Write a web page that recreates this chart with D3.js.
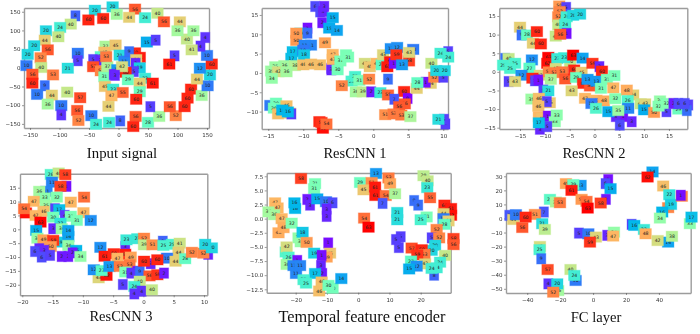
<!DOCTYPE html>
<html>
<head>
<meta charset="utf-8">
<script src="https://cdn.jsdelivr.net/npm/d3@7/dist/d3.min.js"></script>
<style>
  html, body { margin: 0; padding: 0; background: #fff; }
  svg { display: block; filter: blur(0.4px); }
  .domain { stroke: #9c9c9c; stroke-width: 1.4px; }
  .tick line { stroke: #555; stroke-width: 0.6px; }
  .tick text { font-family: "DejaVu Sans", sans-serif; font-size: 5.5px; fill: #333; }
  .title { font-family: "Liberation Serif", serif; fill: #111; text-anchor: middle; }
  .lab { font-family: "DejaVu Sans", sans-serif; font-size: 4.6px; fill: #222; text-anchor: middle; dominant-baseline: central; }
</style>
</head>
<body>
<svg id="chart" width="700" height="334"></svg>
<script>
// every point is [x, y, class label]
const inputSignal = [
  [-10,163,20],[-40,154,20],[28,157,56],[-3,143,36],[18,135,44],[-26,132,60],[-51,128,60],[-73,139,8],[45,134,24],[66,146,40],
  [77,123,56],[104,123,44],[-81,117,40],[-99,108,24],[-123,99,20],[-102,83,40],[-125,74,44],[-120,48,56],[-143,59,20],[-154,36,20],
  [-132,27,52],[-156,6,10],[-131,1,40],[-146,-17,56],[-146,-41,60],[-111,-19,53],[-125,-48,9],[-138,-71,10],[-113,-73,44],[-120,-97,36],
  [-97,-101,10],[-97,-126,4],[-87,-65,40],[-65,-80,57],[-70,-114,56],[-68,-141,52],[-46,-128,10],[-38,-151,24],[-16,-146,24],[3,-142,8],
  [29,-130,56],[25,-157,60],[50,-146,28],[69,-130,36],[97,-128,52],[87,-104,56],[112,-104,60],[117,-81,60],[123,-57,60],[141,-74,36],
  [151,-48,10],[155,-19,20],[133,-30,44],[138,-1,12],[158,10,60],[150,33,10],[147,81,4],[139,58,4],[124,48,41],[116,77,40],
  [100,99,36],[127,99,36],[95,32,5],[86,10,61],[48,69,15],[63,74,5],[-69,39,10],[-69,19,5],[-86,-1,21],
  [-22,58,37],[-5,61,45],[-24,42,46],[-30,30,27],[28,40,60],[36,28,61],[-43,22,5],[-31,20,3],
  [-43,3,57],[-30,-8,52],[-24,-24,31],[-19,3,37],[2,34,21],[-21,30,53],[-2,-5,13],[10,18,11],[18,43,9],[30,22,44],
  [29,12,3],[36,0,19],[-8,-18,2],[26,-10,5],[12,-12,60],[6,3,42],[-6,-20,3],[16,-32,29],[45,-28,23],[58,-41,61],
  [36,-41,44],[36,-64,29],[-23,-50,45],[-9,-57,23],[7,-66,55],[-12,-75,47],[30,-84,60],[54,-104,5],[-17,-103,44]
];

const resCnn1 = [
  [-8.3,17.2,6],[-7.6,15.8,6],[-7.2,15.9,3],[-7,17.2,3],[-7.3,13,2],[-5.8,14.3,15],[-6.3,11.6,15],[-5.2,11,14],[-9.4,11.6,1],[-10.4,10.3,19],
  [-9.4,10.3,9],[-11,8.4,50],[-11,10.3,50],[-8.9,7.2,11],[-9.8,7.2,11],[-6.9,7.8,49],[-11.5,5.5,17],[-11.7,3.8,17],[-10,5.9,10],[-9.9,4.7,18],
  [-12.7,1.9,36],[-11.2,1.9,38],[-10,2.1,46],[-8.9,2.3,46],[-7.6,2.1,46],[-14,1.6,35],[-14.6,0.5,35],[-13.6,0.3,42],[-14.5,-1.4,34],[-12.4,0.3,36],
  [-6,1.2,3],[-6,0.8,3],[-5.1,0.8,30],[-5.8,4.8,47],[-5.8,3.5,47],[-4.7,3.1,31],[-3.9,4.7,31],[-3.6,4.1,31],[-3.1,-2.1,25],[-2.6,-0.9,25],
  [-2,-1.9,31],[-0.6,-1.6,52],[-4.5,-3.3,52],[-2.5,-4.9,36],[-1.5,-4.9,39],[-0.3,-4.9,2],[1,-5.1,23],[2.1,-1.6,9],[-1.2,2.5,42],[-0.5,1.6,45],
  [0.5,2.5,47],[1.2,2.1,27],[1.4,4.7,43],[2.4,2.9,61],[2,1.6,61],[2.9,2.5,1],[2.5,6.3,12],[3.4,6.6,12],[3.3,4.7,59],[5.1,3.1,58],
  [4.1,2.1,13],[5.7,6.1,10],[5.1,5.3,43],[2.1,-5.7,55],[4.4,-4.8,60],[4.9,-6.6,0],[3,-6.8,7],[4.5,-8,56],[3.7,-8.7,56],[1.7,-10.8,51],
  [2.9,-10.6,53],[4,-10.9,53],[5.3,-11.3,37],[6.2,-4,44],[8.2,-2.7,44],[7.5,-2.4,1],[6.3,-2.5,28],[8.7,-1.1,52],[10,-1.1,5],[8.3,2.5,40],
  [9,0.6,20],[10.2,0.6,20],[10.7,5.5,5],[9.6,5.1,24],[10.7,4.1,24],[10.3,-13.2,5],[10.1,-12,5],[9.3,-12,21],[-14.7,-8.4,10],[-13.9,-7.8,30],
  [-14.2,-9.1,30],[-13.6,-10.6,46],[-12.4,-8.5,46],[-11.9,-10.4,46],[-11.7,-10.6,5],[-13,-9.6,16],[-12.2,-10.1,16],[-7.2,-14.3,62],[-7.7,-12.6,60],[-7.4,-12.8,59],
  [-6.7,-13.2,54]
];

const resCnn2 = [
  [-7.1,17.7,50],[-5.7,17.3,5],[-7,16.2,52],[-7.3,14.8,52],[-5.6,14.8,24],[-4.3,15.2,20],[-2.9,15.5,20],[-7.3,12.6,40],[-5.9,12.8,24],[-15,12,44],
  [-14.7,9.9,9],[-13.6,9.9,28],[-11.6,10.8,60],[-12.4,7.7,44],[-10.8,7.5,60],[-7.8,9.6,40],[-5.6,10.3,1],[-6.9,10.1,56],[-18,3.6,9],[-17.3,3.6,40],
  [-18.4,1.8,25],[-16,2.3,25],[-17,0.9,25],[-12.6,3.2,12],[-13.1,1,27],[-14.7,-0.9,12],[-11,-0.9,43],[-12.5,-1.7,60],[-12,-2.4,5],[-11.3,-2.2,1],
  [-17.3,-2.6,5],[-16,-2.6,43],[-9.3,3.9,63],[-9.5,2.3,62],[-9.2,0,52],[-4.9,2.7,40],[-7.5,3.6,23],[-6.1,3.8,23],[-4.3,4.5,63],[-2.4,3.7,14],
  [-7.8,0.9,42],[-8.1,-0.2,53],[-6.5,0,53],[-8.8,-2,37],[-5.9,-1.9,56],[-4.1,0.5,60],[-2.6,-0.1,45],[-3.7,-1.5,29],[-0.4,2.3,59],[1,1.4,3],
  [1.5,0.2,60],[-2.3,-3.1,60],[-0.9,-3.8,56],[-1.4,-2,13],[0.4,-2.5,13],[2.5,-2,31],[4,-1,31],[1.3,-4.4,31],[3.8,-4.3,47],[7.8,-6.2,44],
  [6.5,-4.9,48],[-4.6,-5.1,43],[-10.3,-4.9,5],[-9.3,-5.1,21],[-1.9,-7.1,47],[0.4,-7.6,47],[1.9,-7.8,48],[-0.6,-8.5,10],[0.3,-9.8,26],[4.2,-7.2,32],
  [6.7,-7.7,26],[5.8,-12,1],[4.3,-12,3],[5.1,-14.3,6],[7.5,-13.4,3],[2.8,-10.7,15],[6.8,-9.8,11],[4.8,-10.4,35],[9.3,-8.6,40],[10.2,-8.6,43],
  [10,-10.2,15],[12,-10.9,50],[14.5,-10.7,5],[13.2,-7.8,34],[12.9,-9.2,32],[14.5,-8.5,32],[16.9,-10,29],[18.9,-8.9,5],[18.6,-10.4,9],[15.9,-8.5,2],
  [16.9,-8.5,6],[18.2,-8.5,6],[-12.7,-7.3,35],[-11.2,-7.1,46],[-9,-8.3,45],[-9.6,-8,5],[-11.3,-9.2,46],[-11.2,-12,47],[-10.6,-12.5,46],[-9.4,-11.9,1],
  [-8,-13.4,33],[-7.6,-11.6,33],[-11,-15.4,3],[-9.5,-14.7,5],[-11.2,-13.7,17]
];

const resCnn3 = [
  [-15.3,19.8,26],[-14,20.3,40],[-12.9,19.7,58],[-12.7,15.5,1],[-15.1,17,11],[-13.7,15.5,58],[-16,13.7,11],[-17.2,13.7,36],[-16.3,11.3,33],[-14.3,11.6,32],
  [-12,9.8,47],[-9.8,11.6,54],[-18.1,10.1,47],[-19.4,5.9,62],[-19.7,7.4,54],[-16.1,8.6,35],[-14.6,7.4,5],[-13.9,7.1,17],[-16.5,6.5,46],[-17.8,5,47],
  [-17,2.6,63],[-14.9,4.4,30],[-9.9,6,47],[-13,5,4],[-12,4.7,31],[-11,3.2,31],[-13.7,2.2,22],[-8.7,3.2,12],[-17.7,-0.4,15],[-14.9,0.2,3],
  [-13.5,0.2,34],[-17.5,-3.2,34],[-16.5,-3.8,49],[-13.8,-4.6,19],[-14.9,-4,59],[-12.4,-2.6,14],[-12.4,-0.4,14],[-12.4,-5.8,34],[-15.3,-6.2,50],[-11.1,-7.6,16],
  [-17.2,-7,3],[-16.4,-7.6,3],[-17.9,-8,6],[-16.8,-10,6],[-15.4,-9.4,5],[-13.5,-9.8,2],[-12.4,-9.8,2],[-11.7,-8.5,2],[-10.4,-9.8,34],[-7.1,-6.5,12],
  [-3,-6.2,3],[-6.4,-9.7,61],[-4.9,-8.8,60],[-3,-9,61],[-4.3,-10.4,47],[-2.1,-10,49],[-2.3,-12.8,53],[-7.4,-17.5,43],[-6.1,-16.6,62],[-8.2,-14.6,12],
  [-6.9,-14.9,27],[-5.6,-13.4,13],[-3.9,-13.4,53],[-1,-15.2,1],[-3,-15.4,31],[-2,-15.8,4],[-0.6,-15.2,9],[1,-16.8,56],[2.3,-16.4,59],[3.4,-15.8,2],
  [-2.8,-3.8,23],[-1,-3.4,23],[0.1,-3.2,52],[0.1,-5.6,39],[1.5,-5.6,51],[3.2,-4.3,8],[3.3,-5.8,25],[4.7,-5.4,25],[6,-5,41],[5.8,-8.2,44],
  [3.9,-10.4,10],[5.3,-11.5,44],[6.9,-10.6,28],[1.2,-12.4,3],[0.1,-11.5,60],[2.3,-11,60],[10.7,-9,3],[8,-8.3,52],[9.9,-8.6,52],[11.3,-6.7,20],
  [10.2,-5.4,20],[-3.4,-19.9,5],[-0.6,-18.7,40],[-1.5,-20.6,24],[-0.3,-22.3,4],[-1.5,-23.3,4],[1.4,-21.8,40]
];

const temporalEncoder = [
  [-18.3,7.1,58],[-13.8,6.2,31],[-14.1,5.3,31],[5.7,8,13],[9.7,7.2,53],[10.2,6.2,49],[0.6,6.4,29],[4.3,6.4,51],[1.7,5.1,45],[5.5,4.1,61],
  [5.4,5.6,61],[8.8,4.1,54],[11.8,4.4,37],[20.9,7.6,39],[22.2,6.7,40],[22.1,5.5,23],[23,3.7,55],[17.9,3.2,9],[19.2,2.4,9],[7.8,2.7,7],
  [12.5,1.1,21],[12.5,-0.2,21],[1.9,0.1,54],[3.3,-1.5,63],[21.9,0.3,31],[20,-0.2,25],[27.6,2.4,60],[29.7,1.8,61],[29.7,0.6,62],[27.3,0.9,44],
  [27.3,0,10],[28.9,-0.4,44],[27.6,-1,28],[25.1,-1.9,52],[23.5,-3.4,5],[25.9,-3.4,52],[30.5,-3.5,58],[30.5,-4.6,56],[24.6,-4.7,20],[23.5,-5.6,20],
  [13.6,-3.2,5],[12.1,-3.7,5],[13,-5.1,5],[17.1,-5.2,57],[20.3,-5.5,60],[21.2,-6.3,53],[18.9,-6.4,59],[16.9,-7.5,27],[21.4,-8,43],[18.7,-8.4,12],
  [16.3,-8.9,15],[27.8,-6.5,40],[26.2,-7.7,24],[24.3,-10,8],[25.1,-8.7,24],[23.5,-8.8,24],[-16.3,3.4,2],[-15.4,2.4,3],[-13.1,3.5,15],[-10.3,3,10],
  [-8.2,2.8,6],[-10.1,1.7,3],[-10.1,0.4,3],[-20.2,1.8,16],[-20.4,2.8,16],[-26.6,2.8,47],[-25.8,1.9,47],[-28.7,1.2,36],[-26.9,0.7,36],[-24.5,0,47],
  [-25.5,-2.5,48],[-23.9,-1.6,48],[-21.3,-0.8,32],[-19.1,-3.4,34],[-18.4,-4.1,34],[-17.8,-2.4,18],[-16.5,-4.2,50],[-9.6,-4.3,1],[-23.2,-5.9,26],[-22.9,-5,42],
  [-22.3,-6.8,26],[-22.9,-8.1,36],[-19.5,-7.4,1],[-19.9,-9.7,11],[-20.7,-8.3,11],[-18.6,-8.3,11],[-9,-6.1,45],[-10.1,-6.8,49],[-14.1,-6.1,19],[-11.7,-6.5,1],
  [-11.9,-8.3,3],[-11.5,-9.7,2],[-13.8,-9.7,17],[-17.5,-10.8,25],[-16.7,-11.4,25],[-12.5,-12.8,46],[-11.7,-11.2,46],[-8.2,-12.3,30],[-9.5,-11.8,30],[-5.4,-10.6,14]
];

const fcLayer = [
  [36.1,33.1,14],[33.1,29.5,62],[42.6,23.1,46],[46.3,16.9,22],[45.6,7.7,52],[47.3,10,19],[53.9,15.8,52],[53.3,16.5,1],[42,4.6,16],[40.6,0.3,34],
  [-16.5,24.8,49],[-7.6,23.6,13],[-12,24.1,29],[-13.1,20,61],[9.2,27.6,1],[7.6,24.8,6],[10.6,21.2,15],[7.8,13.6,2],[-26.2,13.6,27],[-22.6,11.7,37],
  [-20.1,11.2,53],[-7,13.6,50],[-4,12.2,54],[4.6,11,58],[-3.3,7.4,63],[-29.9,4.6,7],[-35.3,2.9,51],[-50.9,2.2,7],[-48.5,-0.7,44],[-46.9,2.7,10],
  [-41,1,60],[-43,-6.4,56],[-30.9,-3.7,21],[-29.3,-7.8,39],[23.4,-4.2,5],[25,-4.9,16],[30.9,-7.8,23],[31.9,-10.9,48],[45.6,-16.8,14],[39.2,-15.7,42],
  [47.9,-12.7,38],[58.8,-3.7,33],[59.8,1,17],[-8.6,-10.4,5],[-2.9,-10.9,10],[1.7,-13.2,43],[-1.9,-16.8,59],[8.6,-12,3],[12.7,-9.7,34],[12.2,-12.5,47],
  [-32.3,-19.9,42],[-32.5,-22.2,25],[-31.5,-28.7,9],[-27.6,-36.3,57],[-13.7,-36.3,40],[-10.6,-44.1,10],[-11.4,-40.5,24],[-27.2,-46.5,4],[-21.2,-51.3,36],[-21.8,-46.5,20],
  [-24.2,-52.4,52]
];

const xTicks = [
  d3.range(-150, 151, 50), d3.range(-15, 11, 5), d3.range(-15, 16, 5),
  d3.range(-20, 11, 5), d3.range(-20, 21, 10), d3.range(-40, 41, 20)
];
const yTicks = [
  d3.range(-150, 151, 50), d3.range(-10, 16, 5), d3.range(-15, 16, 5),
  d3.range(-20, 16, 5), d3.range(-12.5, 7.6, 2.5), d3.range(-50, 31, 10)
];
const titles = ['Input signal', 'ResCNN 1', 'ResCNN 2', 'ResCNN 3', 'Temporal feature encoder', 'FC layer'];
const datasets = [inputSignal, resCnn1, resCnn2, resCnn3, temporalEncoder, fcLayer];

// plot boxes in the page and what the axes span inside them
const layout = [
  { l: 24, r: 209, t: 8, b: 128, xd: [-160.2, 153.4], yd: [-161, 160], tx: 122, ty: 158, fs: 14.8 },
  { l: 261.7, r: 448, t: 8, b: 129, xd: [-15.94, 10.67], yd: [-14.5, 16.8], tx: 355, ty: 158, fs: 14.5 },
  { l: 499.3, r: 687.3, t: 8, b: 129, xd: [-19.17, 18.7], yd: [-15.35, 17.15], tx: 594, ty: 158, fs: 14.5 },
  { l: 20, r: 207.3, t: 173.7, b: 295.3, xd: [-20.38, 10.55], yd: [-23.8, 20.05], tx: 121, ty: 321, fs: 14.5 },
  { l: 266.7, r: 450.7, t: 173, b: 292.7, xd: [-29.28, 29.6], yd: [-13.1, 8.08], tx: 362, ty: 322, fs: 16.3 },
  { l: 506, r: 690.7, t: 173, b: 293, xd: [-52.9, 59.3], yd: [-53, 32.35], tx: 596, ty: 322, fs: 14.6 }
];

// matplotlib "rainbow" map, labels run 0..63
const rainbow = t => d3.rgb(
  255 * Math.min(1, Math.abs(2 * t - 0.5)),
  255 * Math.sin(Math.PI * t),
  255 * Math.cos(Math.PI * t / 2)
).formatHex();
const color = d3.scaleSequential(rainbow).domain([0, 63]);

const svg = d3.select('#chart');

datasets.forEach((data, i) => {
  const p = layout[i];
  const x = d3.scaleLinear().domain(p.xd).range([p.l, p.r]);
  const y = d3.scaleLinear().domain(p.yd).range([p.b, p.t]);
  const g = svg.append('g');

  // frame first, the boxes sit on top of it
  g.append('g').attr('transform', `translate(0,${p.b})`)
    .call(d3.axisBottom(x).tickValues(xTicks[i]).tickSize(2).tickPadding(3).tickSizeOuter(0));
  g.append('g').attr('transform', `translate(${p.l},0)`)
    .call(d3.axisLeft(y).tickValues(yTicks[i]).tickSize(2).tickPadding(1.5).tickSizeOuter(0)
      .tickFormat(i === 4 ? d3.format('.1f') : d3.format('d')));
  g.append('g').attr('transform', `translate(0,${p.t})`)
    .call(d3.axisTop(x).tickValues([]).tickSizeOuter(0));
  g.append('g').attr('transform', `translate(${p.r},0)`)
    .call(d3.axisRight(y).tickValues([]).tickSizeOuter(0));

  const pts = g.selectAll('.pt').data(data).enter().append('g')
    .attr('class', 'pt')
    .attr('transform', d => `translate(${x(d[0])},${y(d[1])})`);

  pts.append('rect')
    .attr('x', d => d[2] < 10 ? -4.6 : -5.8)
    .attr('y', -5.2)
    .attr('width', d => d[2] < 10 ? 9.2 : 11.6)
    .attr('height', 10.4)
    .attr('fill', d => color(d[2]))
    .attr('stroke', d => color(d[2]))
    .attr('stroke-opacity', 0.35)
    .attr('stroke-width', 1);

  pts.append('text').attr('class', 'lab').text(d => d[2]);

  svg.append('text').attr('class', 'title')
    .attr('x', p.tx).attr('y', p.ty)
    .style('font-size', p.fs + 'px')
    .text(titles[i]);
});
</script>
</body>
</html>
